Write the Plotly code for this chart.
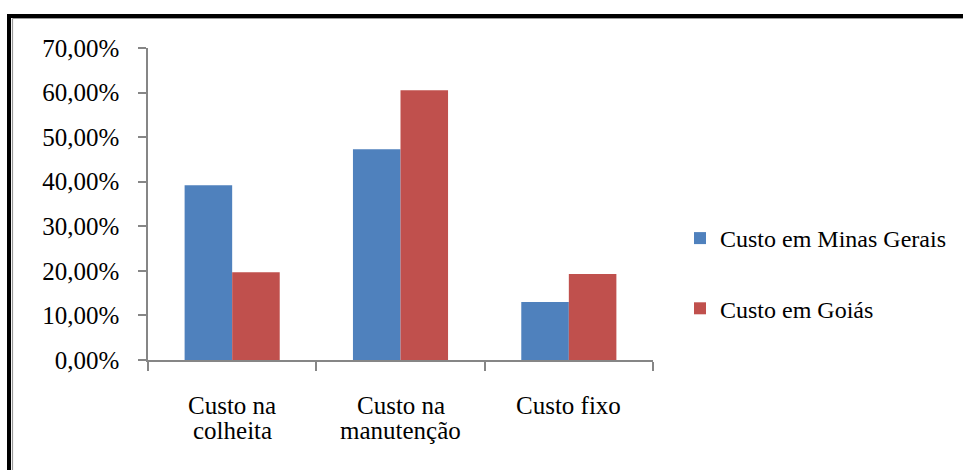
import plotly.graph_objects as go

categories = ["Custo na<br>colheita", "Custo na<br>manutenção", "Custo fixo"]
minas_gerais = [0.392, 0.473, 0.130]
goias = [0.197, 0.605, 0.193]
series_names = ["Custo em Minas Gerais", "Custo em Goiás"]
tick_vals = [0, 0.1, 0.2, 0.3, 0.4, 0.5, 0.6, 0.7]
tick_text = ["0,00%", "10,00%", "20,00%", "30,00%", "40,00%", "50,00%", "60,00%", "70,00%"]

FONT = "Liberation Serif, Times New Roman, serif"
AXIS_COLOR = "#868686"
FS = 25

fig = go.Figure()
fig.add_trace(go.Bar(x=categories, y=minas_gerais, name=series_names[0],
                     marker=dict(color="#4F81BD", line=dict(width=0)),
                     legendgroup="a"))
fig.add_trace(go.Bar(x=categories, y=goias, name=series_names[1],
                     marker=dict(color="#C0504D", line=dict(width=0)),
                     legendgroup="b"))

W, H = 963, 470
L, R, T, B = 148, 310, 48, 110

fig.update_layout(
    width=W, height=H,
    margin=dict(l=L, r=R, t=T, b=B, pad=0, autoexpand=False),
    paper_bgcolor="white", plot_bgcolor="white",
    barmode="group", bargap=0.435, bargroupgap=0,
    font=dict(family=FONT, size=FS, color="black"),
    showlegend=True,
    legend=dict(xref="container", yref="container",
                x=680 / W, xanchor="left", y=1 - 216 / H, yanchor="top",
                font=dict(family=FONT, size=24, color="black"),
                tracegroupgap=36, itemwidth=30, bgcolor="rgba(0,0,0,0)"),
    xaxis=dict(showline=True, linecolor=AXIS_COLOR, linewidth=1.5,
               ticks="outside", tickson="boundaries", ticklen=9,
               tickcolor=AXIS_COLOR, tickwidth=1.5,
               showticklabels=False,
               showgrid=False, zeroline=False),
    yaxis=dict(range=[0, 0.7], tickvals=tick_vals, ticktext=tick_text,
               showline=True, linecolor=AXIS_COLOR, linewidth=1.5,
               ticks="outside", ticklen=8, tickcolor=AXIS_COLOR, tickwidth=1.5,
               ticklabelstandoff=14,
               tickfont=dict(family=FONT, size=FS, color="black"),
               showgrid=False, zeroline=False),
)

# category labels with tight line spacing (as in the original)
for cat in categories:
    for i, line in enumerate(cat.split("<br>")):
        fig.add_annotation(x=cat, xref="x", y=0, yref="paper",
                           text=line, showarrow=False,
                           xanchor="center", yanchor="middle",
                           yshift=-45 - 25 * i,
                           font=dict(family=FONT, size=FS, color="black"))

pw, ph = W - L - R, H - T - B
# outer frame (decorative border like the original image)
fig.add_shape(type="line", xref="paper", yref="paper",
              x0=-(L - 7) / pw, x1=(W - L) / pw,
              y0=1 + (T - 16) / ph, y1=1 + (T - 16) / ph,
              line=dict(color="black", width=4))
fig.add_shape(type="line", xref="paper", yref="paper",
              x0=-(L - 9) / pw, x1=-(L - 9) / pw,
              y0=1 + (T - 14) / ph, y1=-B / ph,
              line=dict(color="black", width=4))
fig.add_shape(type="line", xref="paper", yref="paper",
              x0=-(L - 12.5) / pw, x1=(W - L) / pw,
              y0=1 + (T - 18.5) / ph, y1=1 + (T - 18.5) / ph,
              line=dict(color="#9a9a9a", width=1.2))
fig.add_shape(type="line", xref="paper", yref="paper",
              x0=-(L - 12.5) / pw, x1=-(L - 12.5) / pw,
              y0=1 + (T - 18.5) / ph, y1=-B / ph,
              line=dict(color="#9a9a9a", width=1.2))

fig.write_html("out.html", config={"displayModeBar": False},
               post_script="document.body.style.margin='0';")
